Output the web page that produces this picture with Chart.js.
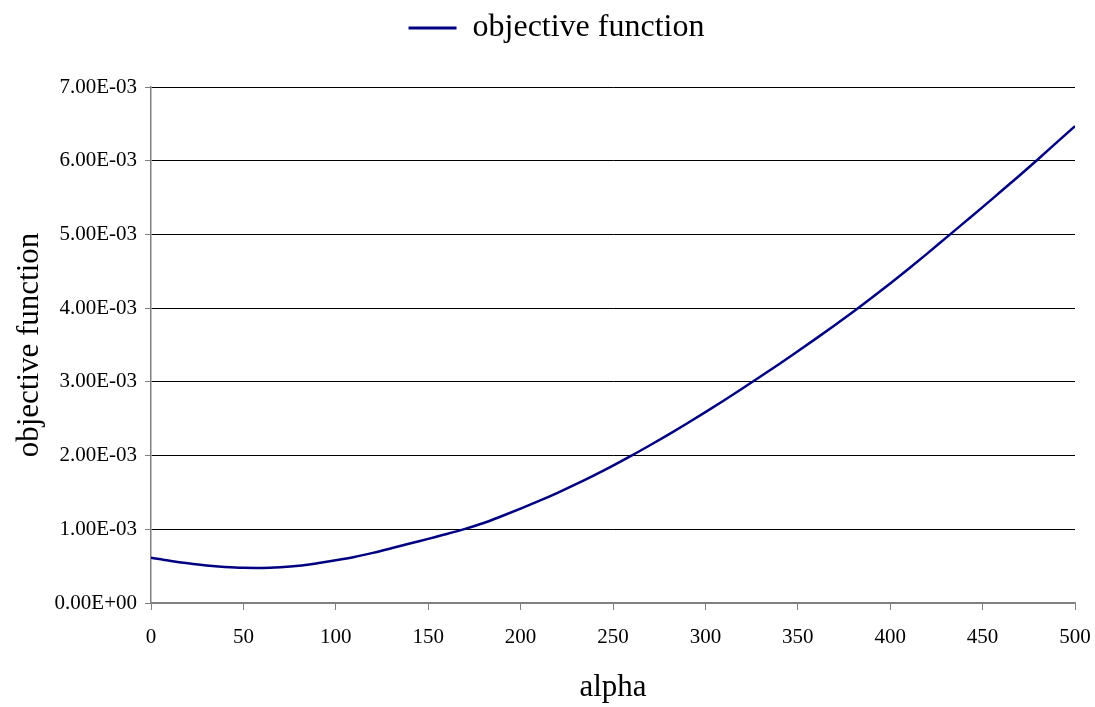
<!DOCTYPE html>
<html>
<head>
<meta charset="utf-8">
<title>objective function</title>
<script src="https://cdn.jsdelivr.net/npm/chart.js@4.4.1/dist/chart.umd.min.js"></script>
<style>
  html, body { margin: 0; padding: 0; background: #fff; }
  #wrap { width: 1095px; height: 707px; position: relative; }
</style>
</head>
<body>
<div id="wrap"><canvas id="chart"></canvas></div>
<script>
// valores
const alphaValues = [0, 10, 20, 30, 40, 50, 60, 70, 80, 90,
    100, 110, 120, 130, 140, 150, 160, 170, 180, 190,
    200, 210, 220, 230, 240, 250, 260, 270, 280, 290,
    300, 310, 320, 330, 340, 350, 360, 370, 380, 390,
    400, 410, 420, 430, 440, 450, 460, 470, 480, 490, 500];
const objectiveValues = [6.14e-4, 5.74e-4, 5.39e-4, 5.10e-4, 4.90e-4, 4.78e-4, 4.76e-4, 4.85e-4, 5.05e-4, 5.40e-4,
    5.80e-4, 6.25e-4, 6.80e-4, 7.42e-4, 8.07e-4, 8.70e-4, 9.35e-4, 1.005e-3, 1.085e-3, 1.18e-3,
    1.28e-3, 1.385e-3, 1.495e-3, 1.612e-3, 1.735e-3, 1.864e-3, 1.999e-3, 2.14e-3, 2.285e-3, 2.435e-3,
    2.59e-3, 2.748e-3, 2.91e-3, 3.075e-3, 3.243e-3, 3.415e-3, 3.59e-3, 3.768e-3, 3.95e-3, 4.14e-3,
    4.335e-3, 4.535e-3, 4.74e-3, 4.95e-3, 5.16e-3, 5.37e-3, 5.585e-3, 5.80e-3, 6.02e-3, 6.245e-3, 6.47e-3];
const seriesLabel = 'objective function';
const xTitle = 'alpha';
const yTitle = 'objective function';
const xTicks = { min: 0, max: 500, step: 50 };
const yTicks = { min: 0, max: 0.007, step: 0.001 };

const serif = 'Liberation Serif, Times New Roman, serif';
const navy = '#000080';
const axisGray = '#808080';

// formato científico do tipo Excel: 7.00E-03
function sciLabel(v) {
    if (Math.abs(v) < 1e-12) return '0.00E+00';
    const exp = Math.floor(Math.log10(Math.abs(v)) + 1e-9);
    const mant = v / Math.pow(10, exp);
    return mant.toFixed(2) + 'E' + (exp < 0 ? '-' : '+') + String(Math.abs(exp)).padStart(2, '0');
}

// espaço extra por baixo da legenda e legenda um pouco à direita
const legendGap = {
    id: 'legendGap',
    beforeInit(chart) {
        const origFit = chart.legend.fit;
        chart.legend.fit = function () {
            origFit.bind(chart.legend)();
            this.height += 33;
        };
    },
    afterLayout(chart) {
        chart.legend.left += 19;
        chart.legend.right += 19;
    }
};

const ctx = document.getElementById('chart').getContext('2d');
new Chart(ctx, {
    type: 'line',
    data: {
        datasets: [{
            label: seriesLabel,
            data: alphaValues.map((a, i) => ({ x: a, y: objectiveValues[i] })),
            borderColor: navy,
            backgroundColor: navy,
            borderWidth: 2.5,
            pointRadius: 0,
            cubicInterpolationMode: 'monotone',
            fill: false
        }]
    },
    options: {
        responsive: true,
        maintainAspectRatio: false,
        animation: false,
        layout: { padding: { left: 0, right: 20, top: 0, bottom: 0 } },
        plugins: {
            legend: {
                display: true,
                position: 'top',
                labels: {
                    color: '#000',
                    font: { family: serif, size: 32 },
                    boxWidth: 48,
                    boxHeight: 3,
                    padding: 12,
                    generateLabels(chart) {
                        return Chart.defaults.plugins.legend.labels.generateLabels(chart).map(l => {
                            l.lineWidth = 0;
                            l.fillStyle = navy;
                            return l;
                        });
                    }
                }
            },
            tooltip: { enabled: false }
        },
        scales: {
            x: {
                type: 'linear',
                min: xTicks.min,
                max: xTicks.max,
                ticks: {
                    stepSize: xTicks.step,
                    color: '#000',
                    font: { family: serif, size: 21 },
                    padding: 15,
                    maxRotation: 0
                },
                grid: {
                    drawOnChartArea: false,
                    drawTicks: true,
                    tickLength: 7,
                    tickColor: axisGray
                },
                border: { color: axisGray, width: 1.5 },
                title: {
                    display: true,
                    text: xTitle,
                    color: '#000',
                    font: { family: serif, size: 31 },
                    padding: { top: 0, bottom: 1 }
                },
                afterFit(scale) {
                    scale.height = 104;
                    scale.paddingLeft = 0;
                    scale.paddingRight = 0;
                }
            },
            y: {
                type: 'linear',
                min: yTicks.min,
                max: yTicks.max,
                ticks: {
                    stepSize: yTicks.step,
                    color: '#000',
                    font: { family: serif, size: 21 },
                    padding: 8,
                    callback: v => sciLabel(v)
                },
                grid: {
                    color: c => (c.tick && Math.abs(c.tick.value) < 1e-12) ? axisGray : '#000',
                    lineWidth: 1,
                    drawTicks: true,
                    tickLength: 6,
                    tickColor: axisGray
                },
                border: { color: axisGray, width: 1.5 },
                title: {
                    display: true,
                    text: yTitle,
                    color: '#000',
                    font: { family: serif, size: 31 },
                    padding: { top: 11, bottom: 0 }
                },
                afterFit(scale) { scale.width = 151; }
            }
        }
    },
    plugins: [legendGap]
});
</script>
</body>
</html>
